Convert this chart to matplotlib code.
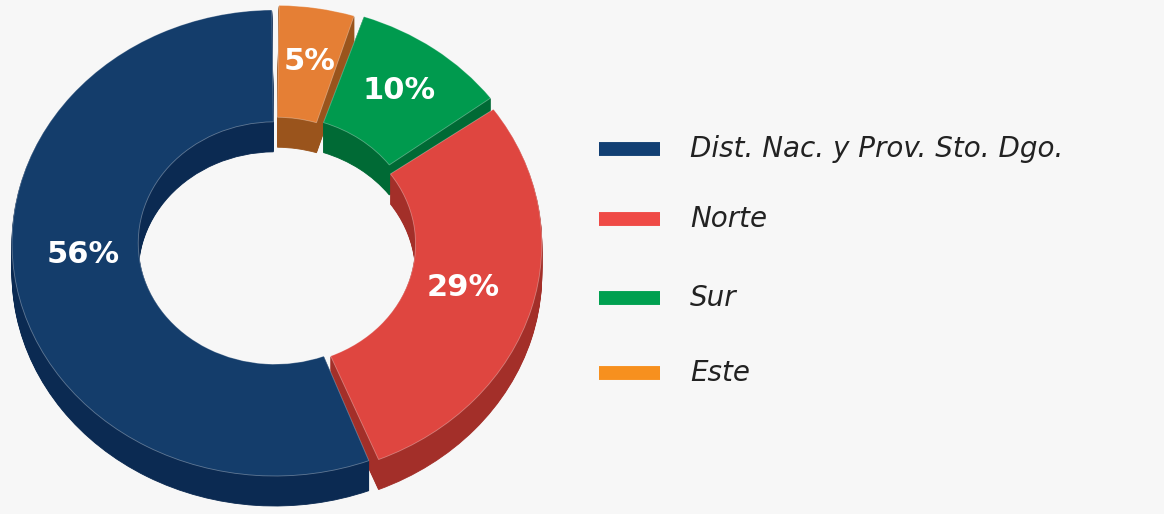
import numpy as np
import matplotlib.pyplot as plt
from matplotlib.patches import Wedge
from matplotlib.transforms import Affine2D

# ── DATA ──────────────────────────────────────────────────────
regions = ['Dist. Nac. y Prov. Sto. Dgo.', 'Norte', 'Sur', 'Este']
shares  = [56, 29, 10, 5]
labels  = ['56%', '29%', '10%', '5%']

# ── STYLE ─────────────────────────────────────────────────────
top_colors    = ['#143d6b', '#df4640', '#009a4e', '#e57f35']
side_colors   = ['#0b2a52', '#a32f29', '#006a35', '#9a541c']
legend_colors = ['#123f73', '#ef4a46', '#00a050', '#f7901e']
explode       = [0.0, 0.015, 0.03, 0.02]
gap_deg       = 0.7        # small angular gap on each side of a wedge
bg = '#f7f7f7'

W, H = 1164, 514
cx, cy = 275, H - 243      # centre of the top face
rx, ry = 263, 233          # outer radii (slightly squashed)
inner  = 0.52              # hole / outer radius
depth  = 30                # extrusion in px

fig = plt.figure(figsize=(W / 100, H / 100), dpi=100, facecolor=bg)
ax = fig.add_axes([0, 0, 1, 1])
ax.set_xlim(0, W)
ax.set_ylim(0, H)
ax.axis('off')
ax.set_facecolor(bg)

# wedge angles, counterclockwise from 12 o'clock
fracs = np.array(shares) / np.sum(shares)
angles = []
a = 90
for f in fracs:
    angles.append((a, a + 360 * f))
    a += 360 * f


def ring(i, dy, color, z, edge=None, lw=0):
    t1, t2 = angles[i]
    mid = np.deg2rad((t1 + t2) / 2)
    ox = explode[i] * np.cos(mid)
    oy = explode[i] * np.sin(mid)
    w = Wedge((ox, oy), 1.0, t1 + gap_deg, t2 - gap_deg, width=1 - inner,
              facecolor=color, edgecolor=edge if edge else color,
              linewidth=lw, zorder=z)
    w.set_transform(Affine2D().scale(rx, ry).translate(cx, cy - dy) + ax.transData)
    ax.add_patch(w)


# extruded sides
for dy in range(depth, 0, -1):
    for i in range(len(shares)):
        ring(i, dy, side_colors[i], 1, lw=0.6)

# top faces
for i in range(len(shares)):
    ring(i, 0, top_colors[i], 2, edge='#ffffff55', lw=0.6)

# percentage labels
nudge = [(5, 22), (-8, 6), (2, 4), (2, 2)]
for i, lab in enumerate(labels):
    t1, t2 = angles[i]
    mid = np.deg2rad((t1 + t2) / 2)
    r = (1 + inner) / 2 + explode[i]
    x = cx + rx * r * np.cos(mid) + nudge[i][0]
    y = cy + ry * r * np.sin(mid) + nudge[i][1]
    ax.text(x, y, lab, color='white', fontsize=22, fontweight='bold',
            ha='center', va='center', zorder=5, family='DejaVu Sans')

# legend
leg_y = [H - 149, H - 219, H - 298, H - 373]
for i, name in enumerate(regions):
    ax.plot([599, 660], [leg_y[i], leg_y[i]], color=legend_colors[i],
            linewidth=10, solid_capstyle='butt', zorder=3)
    ax.text(690, leg_y[i], name, color='#222222', fontsize=20, style='italic',
            ha='left', va='center', family='DejaVu Sans')

plt.savefig('out.png', dpi=100, facecolor=bg)
